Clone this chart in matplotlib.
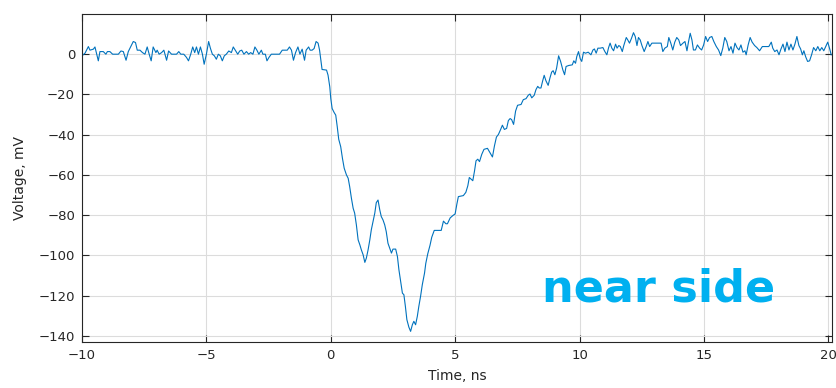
import numpy as np
import matplotlib.pyplot as plt

# values (time in ns, voltage in mV)
t_base = [-10.0, -9.88, -9.745, -9.68, -9.545, -9.48, -9.345, -9.28, -9.145, -9.04,
          -8.98, -8.88, -8.77, -8.68, -8.54, -8.435, -8.34, -8.23, -8.14, -8.03,
          -7.94, -7.85, -7.78, -7.67, -7.57, -7.47, -7.38, -7.30, -7.22, -7.14,
          -7.03, -6.98, -6.90, -6.80, -6.71, -6.60, -6.52, -6.40, -6.20, -6.11,
          -6.03, -5.91, -5.80, -5.72, -5.63, -5.55, -5.47, -5.40, -5.32, -5.24,
          -5.16, -5.09, -5.00, -4.91, -4.84, -4.76, -4.68, -4.60, -4.52, -4.44,
          -4.36, -4.28, -4.20, -4.10, -3.995, -3.92, -3.82, -3.74, -3.66, -3.58,
          -3.49, -3.39, -3.30, -3.22, -3.13, -3.05, -2.97, -2.89, -2.79, -2.73,
          -2.63, -2.565, -2.485, -2.39, -2.06, -1.95, -1.75, -1.66, -1.58, -1.50,
          -1.415, -1.32, -1.24, -1.15, -1.055, -0.99, -0.89, -0.83, -0.75, -0.67,
          -0.59, -0.51, -0.45, -0.40, -0.35, -0.17, -0.11, -0.04]
v_base = [-0.8, 0.5, 3.8, 2.0, 2.5, 3.6, -3.3, 1.3, 1.3, 0.0,
          1.3, 1.3, 0.0, 0.0, 0.0, 1.6, 1.3, -3.0, 1.3, 4.1,
          6.3, 5.8, 2.0, 2.0, 0.8, 0.0, 3.6, 0.0, -3.3, 3.6,
          0.8, 2.0, 0.0, 0.8, 2.0, -3.0, 1.6, 0.0, 0.0, 1.3,
          0.0, 0.0, -1.6, -3.3, 0.0, 3.6, 0.8, 3.6, 0.0, 3.6,
          0.0, -5.0, 0.0, 6.3, 3.0, 0.0, -0.8, -2.5, 0.0, -0.8,
          -3.3, -0.8, 0.0, 1.6, 0.8, 3.6, 1.6, 0.0, 1.6, 2.0,
          0.0, 1.3, 0.0, 0.8, 0.0, 3.6, 2.0, 0.0, 2.0, 0.0,
          0.0, -3.3, -1.6, 0.0, 0.0, 2.0, 2.0, 3.6, 2.0, -3.0,
          0.8, 3.6, 0.0, 2.5, -3.0, 2.0, 3.6, 2.0, 2.0, 2.8,
          6.3, 5.5, 2.0, -3.0, -7.6, -7.9, -10.4, -16.2]

t_pulse = [0.0, 0.055, 0.136, 0.20, 0.26, 0.32, 0.40, 0.47, 0.54, 0.63,
           0.70, 0.76, 0.83, 0.90, 0.96, 1.03, 1.10, 1.17, 1.23, 1.30,
           1.37, 1.43, 1.50, 1.57, 1.63, 1.70, 1.77, 1.83, 1.90, 1.97,
           2.03, 2.10, 2.17, 2.23, 2.30, 2.37, 2.44, 2.50, 2.61, 2.68,
           2.74, 2.81, 2.88, 2.94, 3.00, 3.06, 3.14, 3.21, 3.28, 3.34,
           3.41, 3.48, 3.54, 3.61, 3.68, 3.77]
v_pulse = [-22.0, -27.0, -29.0, -30.3, -36.0, -42.3, -46.0, -51.8, -56.7, -60.0,
           -61.7, -65.8, -71.6, -76.6, -79.0, -84.9, -92.3, -94.8, -97.3, -99.7,
           -103.5, -101.4, -97.3, -92.3, -87.3, -83.2, -79.0, -73.8, -72.5, -77.4,
           -80.7, -82.4, -84.9, -88.2, -94.0, -96.4, -98.9, -96.9, -96.9, -100.6,
           -107.2, -113.0, -118.8, -119.6, -125.4, -132.0, -135.7, -137.8, -134.5, -132.8,
           -134.5, -130.3, -125.4, -120.4, -114.6, -108.8]

t_rise = [3.82, 3.90, 3.99, 4.06, 4.16, 4.44, 4.53, 4.63, 4.69, 4.80,
          4.91, 5.00, 5.07, 5.13, 5.33, 5.43, 5.51, 5.57, 5.64, 5.71,
          5.78, 5.84, 5.91, 5.98, 6.07, 6.16, 6.30, 6.40, 6.50, 6.58,
          6.66, 6.74, 6.83, 6.90, 6.98, 7.07, 7.14, 7.21, 7.27, 7.35,
          7.43, 7.51, 7.65, 7.74, 7.85, 7.94, 8.01, 8.08, 8.18, 8.25,
          8.32, 8.38, 8.45, 8.52, 8.58, 8.65, 8.74, 8.81, 8.88, 8.94,
          9.01, 9.08]
v_rise = [-104.0, -99.2, -95.0, -91.0, -87.6, -87.6, -83.0, -84.3, -84.3, -81.4,
          -80.2, -79.4, -74.5, -70.8, -70.3, -68.7, -65.4, -61.3, -62.1, -62.9,
          -58.0, -53.0, -52.2, -53.4, -49.8, -47.3, -46.8, -48.9, -51.1, -45.6,
          -41.2, -39.9, -37.4, -35.3, -37.4, -36.9, -33.0, -32.0, -32.5, -34.9,
          -28.3, -25.4, -25.0, -22.6, -22.1, -20.4, -19.8, -21.7, -20.4, -17.6,
          -16.0, -16.8, -16.8, -13.2, -10.5, -13.2, -15.5, -11.9, -8.9, -8.2,
          -10.2, -6.9]

t_tail = [9.16, 9.24, 9.33, 9.40, 9.46, 9.57, 9.71, 9.77, 9.84, 9.89,
          9.96, 10.03, 10.09, 10.16, 10.24, 10.35, 10.46, 10.54, 10.60, 10.67,
          10.74, 10.83, 10.94, 11.02, 11.10, 11.17, 11.23, 11.30, 11.37, 11.45,
          11.51, 11.58, 11.64, 11.72, 11.78, 11.88, 11.94, 12.01, 12.09, 12.17,
          12.24, 12.31, 12.37, 12.44, 12.51, 12.60, 12.68, 12.75, 12.82, 12.91,
          13.08, 13.28, 13.35, 13.43, 13.53, 13.59, 13.67, 13.75, 13.83, 13.91,
          13.99, 14.06, 14.16, 14.24, 14.32, 14.38, 14.45, 14.52, 14.58, 14.66,
          14.74, 14.83, 14.91, 14.99, 15.07, 15.15, 15.23, 15.32, 15.40, 15.50,
          15.59, 15.68, 15.76, 15.84, 15.92, 16.01, 16.09, 16.17, 16.25, 16.33,
          16.41, 16.49, 16.57, 16.65, 16.70, 16.78, 16.86, 16.94, 17.04, 17.13,
          17.24, 17.35, 17.61, 17.71, 17.77, 17.85, 17.94, 18.02, 18.10, 18.18,
          18.26, 18.34, 18.42, 18.50, 18.58, 18.66, 18.74, 18.82, 18.89, 18.96,
          19.02, 19.09, 19.17, 19.25, 19.33, 19.41, 19.50, 19.58, 19.66, 19.74,
          19.82, 19.90, 19.98, 20.05, 20.12]
v_tail = [-0.8, -3.6, -7.8, -10.2, -6.1, -5.6, -5.3, -3.3, -4.5, -1.2,
          1.3, -2.3, -3.6, 1.0, 0.5, 1.0, -0.3, 2.1, 2.6, 0.5,
          3.0, 3.0, 3.3, 1.3, -0.3, 3.3, 5.5, 3.0, 1.7, 5.0,
          3.0, 4.3, 3.8, 1.3, 4.3, 8.3, 7.1, 5.5, 7.9, 10.7,
          8.8, 4.3, 8.3, 7.1, 4.3, 1.3, 3.8, 6.3, 3.8, 5.5,
          5.5, 5.5, 1.3, 3.0, 3.8, 8.3, 5.5, 2.1, 6.0, 8.3,
          7.1, 4.3, 5.5, 6.3, 1.7, 6.0, 10.4, 7.1, 2.1, 2.1,
          4.6, 3.0, 2.1, 4.6, 8.8, 6.3, 8.3, 8.8, 6.3, 3.8,
          2.1, -0.7, 3.0, 8.3, 6.3, 1.7, 3.8, 0.5, 5.5, 3.3,
          2.1, 4.6, 1.0, 1.7, -0.3, 4.6, 8.3, 6.0, 4.3, 3.3,
          1.7, 3.8, 3.8, 6.0, 3.0, 1.3, 2.1, -0.3, 2.6, 5.0,
          1.3, 6.0, 2.1, 5.0, 2.1, 5.0, 8.8, 4.3, 2.6, -0.3,
          1.7, -1.2, -3.6, -3.3, -0.3, 3.3, 1.7, 3.8, 1.7, 3.3,
          1.7, 3.8, 6.0, 3.0, -0.3]

time = np.array(t_base + t_pulse + t_rise + t_tail)
volt = np.array(v_base + v_pulse + v_rise + v_tail)

txt = "#262626"
fig = plt.figure(figsize=(8.37, 3.88), dpi=100)
ax = fig.add_axes([0.098, 0.119, 0.896, 0.845])
ax.plot(time, volt, color="#0072BD", lw=0.8)

ax.set_xlim(-10, 20.15)
ax.set_ylim(-143, 20)
ax.set_xticks([-10, -5, 0, 5, 10, 15, 20])
ax.set_yticks([0, -20, -40, -60, -80, -100, -120, -140])
ax.set_yticklabels(["0", "\u221220", "\u221240", "\u221260", "\u221280", "\u2212100", "\u2212120", "\u2212140"])
ax.set_xticklabels(["\u221210", "\u22125", "0", "5", "10", "15", "20"])
ax.grid(True, color="#dcdcdc", lw=0.8)
ax.set_axisbelow(True)
ax.tick_params(direction="in", top=True, right=True, length=5, width=0.8,
               labelsize=9.5, colors=txt, pad=5)
for s in ax.spines.values():
    s.set_color(txt)
    s.set_linewidth(0.8)
ax.set_xlabel("Time, ns", fontsize=10, color=txt, labelpad=5)
ax.set_ylabel("Voltage, mV", fontsize=10, color=txt, labelpad=8)

ax.text(8.49, -123.1, "near side", color="#00B0F0", fontsize=32,
        fontweight="bold", family="DejaVu Sans", ha="left", va="baseline")

fig.savefig("out.png", dpi=100)
